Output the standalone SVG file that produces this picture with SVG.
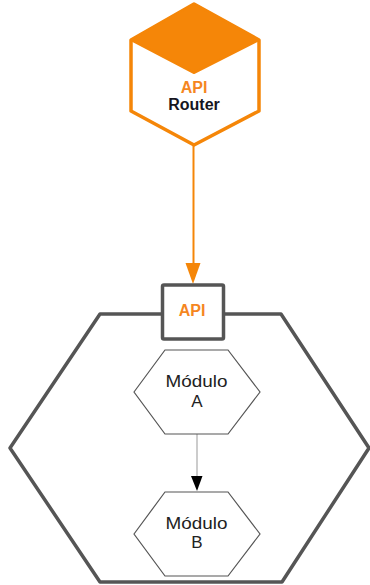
<svg xmlns="http://www.w3.org/2000/svg" width="370" height="585" viewBox="0 0 370 585">
<style>
.t{font-family:"Liberation Sans",Arial,sans-serif;text-anchor:middle}
.b{font-weight:700;font-size:16px}
.o{fill:#f5861f}
.m{font-size:17px;fill:#222}
.mod{fill:#fff;stroke:#555;stroke-width:1.2}
</style>
<rect width="370" height="585" fill="#fff"/>
<g id="outer-hexagon"><polygon points="10,448 100,314 281,314 369,448 282,582 100,582" fill="#fff" stroke="#555" stroke-width="3.5" stroke-linejoin="round"/></g>
<g id="api-router">
<polygon points="131,40 194,4 259,40 259,111 194,145 131,111" fill="#fff" stroke="#f58608" stroke-width="3.5" stroke-linejoin="round"/>
<polygon points="131,40 194,4 259,40 194,73" fill="#f58608" stroke="#f58608" stroke-width="2" stroke-linejoin="round"/>
<text class="t b" y="94"><tspan class="o" x="194" y="93">API</tspan><tspan x="194" y="110" fill="#16161e">Router</tspan></text>
</g>
<g id="connectors">
<line x1="193.5" y1="146" x2="193.5" y2="264" stroke="#f58608" stroke-width="2"/>
<polygon points="185.5,263 200.5,263 193,284" fill="#f58608"/>
<line x1="197" y1="434" x2="197" y2="477" stroke="#999" stroke-width="1"/>
<polygon points="191,476 202.5,476 197,491" fill="#000"/>
</g>
<g id="api"><rect x="162.5" y="285" width="61" height="54" rx="1.5" fill="#fff" stroke="#555" stroke-width="3.5"/>
<text class="t b o" x="192" y="316">API</text></g>
<g id="modulo-a"><polygon class="mod" points="134,392 165,350 228,350 260,392 228,434 165,434"/>
<text class="t m" x="196.5" y="386.5" textLength="62" lengthAdjust="spacingAndGlyphs">Módulo</text><text class="t m" x="197" y="406.5">A</text></g>
<g id="modulo-b"><polygon class="mod" points="134,534 165,492 228,492 260,534 228,576 165,576"/>
<text class="t m" x="196.5" y="528.5" textLength="62" lengthAdjust="spacingAndGlyphs">Módulo</text><text class="t m" x="197" y="548">B</text></g>
</svg>
